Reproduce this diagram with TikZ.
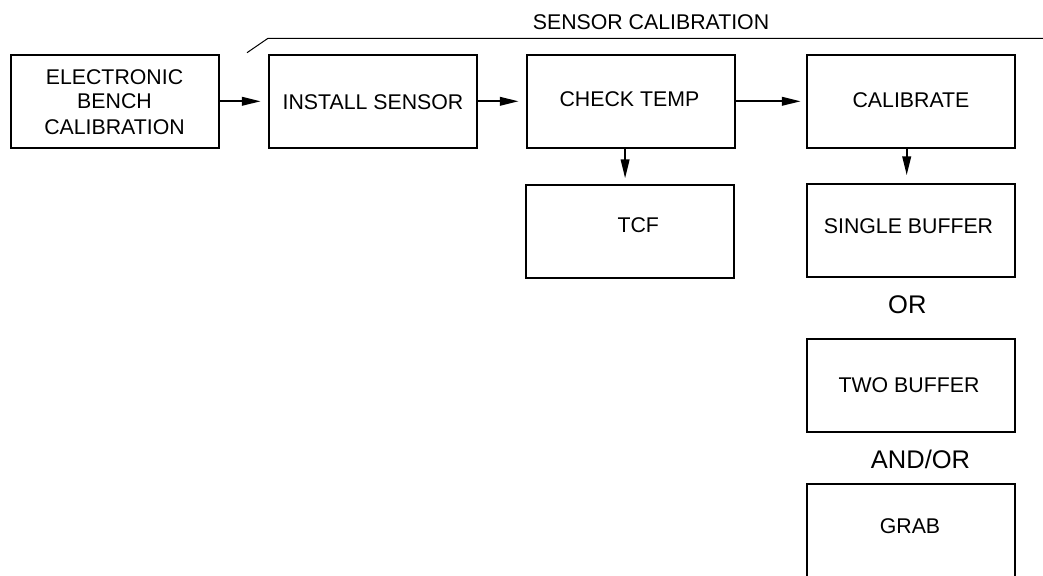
\documentclass[tikz,border=0pt]{standalone}
\usepackage{fontspec}
\setmainfont{Liberation Sans}
\usetikzlibrary{arrows.meta}
\begin{document}
\begin{tikzpicture}[x=1pt,y=-1pt,
  box/.style={draw=black,line width=2.3pt,minimum width=208pt,minimum height=93pt,inner sep=0pt,fill=white},
  boxtext/.style={font=\fontsize{21.3}{25}\selectfont,align=center,inner sep=0pt},
  sep/.style={font=\fontsize{25.5}{30}\selectfont,inner sep=0pt},
  arr/.style={line width=2.2pt,-{Triangle[length=19pt,width=8.5pt]}},
  thin/.style={line width=1pt}]
\useasboundingbox (0,0) rectangle (1043,575);
\clip (0,0) rectangle (1043,575);
\fill[white] (0,0) rectangle (1043,575);

% top row
\node[box,label={[boxtext,xshift=-0.5pt,yshift=-0.4pt]center:ELECTRONIC\\[-1pt]BENCH\\[1pt]CALIBRATION}] (b1) at (115,101.3) {};
\node[box,label={[boxtext,yshift=-0.5pt]center:INSTALL SENSOR}] (b2) at (373,101.3) {};
\node[box,label={[boxtext,xshift=-1.5pt,yshift=2pt]center:CHECK TEMP}] (b3) at (630.9,101.3) {};
\node[box,label={[boxtext,yshift=1.5pt]center:CALIBRATE}] (b4) at (911,101.3) {};

% second row
\node[box,label={[boxtext,xshift=8pt,yshift=6pt]center:TCF}] (b5) at (630.2,231.6) {};
\node[box,label={[boxtext,xshift=-2.5pt,yshift=4.8pt]center:SINGLE BUFFER}] (b6) at (911,230.5) {};
\node[sep] (or) at (907.3,305) {OR};
\node[box,label={[boxtext,xshift=-2pt,yshift=0.5pt]center:TWO BUFFER}] (b7) at (911,385.5) {};
\node[sep] (andor) at (920.5,459) {AND/OR};
\node[box,label={[boxtext,xshift=-1pt,yshift=4.5pt]center:GRAB}] (b8) at (911,530.5) {};

% connectors
\draw[arr,shorten >=7pt] (b1.east) -- (b2.west);
\draw[arr,shorten >=7pt] (b2.west -| b2.east) -- (b3.west);
\draw[arr,shorten >=5pt] (b3.east) -- (b4.west);
\draw[arr,shorten >=5.5pt] ([xshift=-5.8pt]b3.south) -- ([xshift=-5.8pt]b3.south |- b5.north);
\draw[arr,shorten >=7.5pt] ([xshift=-4.3pt]b4.south) -- ([xshift=-4.3pt]b4.south |- b6.north);

% sensor calibration bracket
\coordinate (s0) at (247,52.7);
\coordinate (s1) at (268,38.3);
\coordinate (s2) at (1045,38.3);
\draw[thin] (s0) -- (s1) -- (s2);
\node[boxtext] (sc) at (651,21.7) {SENSOR CALIBRATION};
\end{tikzpicture}
\end{document}
